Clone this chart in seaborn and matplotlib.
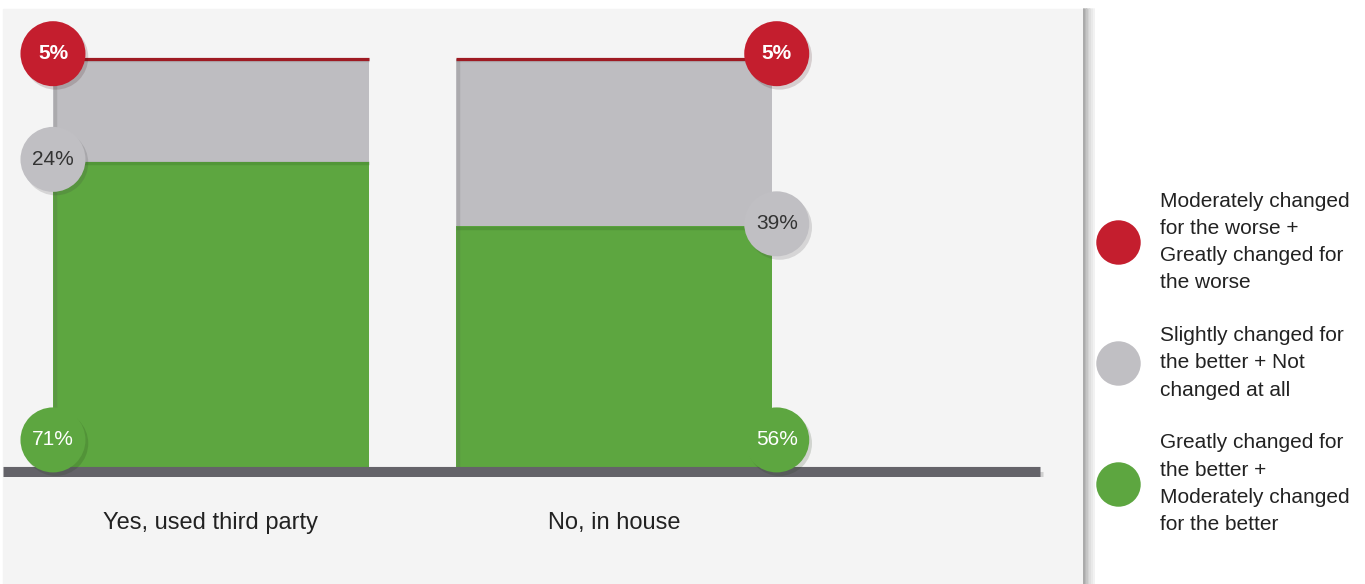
import matplotlib
matplotlib.use('Agg')
import matplotlib.pyplot as plt
import matplotlib.patheffects as pe
from matplotlib.lines import Line2D
from matplotlib.patches import Rectangle
import seaborn as sns
import pandas as pd

# data
categorias = ['Yes, used third party', 'No, in house']
melhor = [71, 56]       # greatly + moderately changed for the better
neutro = [24, 39]       # slightly better + not changed
pior = [5, 5]           # moderately + greatly worse
legenda = ['Moderately changed\nfor the worse +\nGreatly changed for\nthe worse',
           'Slightly changed for\nthe better + Not\nchanged at all',
           'Greatly changed for\nthe better +\nModerately changed\nfor the better']

VERMELHO = '#c41e2e'
CINZA = '#bebdc1'
VERDE = '#5da640'
BASE = '#646369'

sns.set_style('white')
plt.rcParams['font.family'] = ['Liberation Sans', 'DejaVu Sans']

df = pd.DataFrame({'cat': categorias, 'melhor': melhor, 'neutro': neutro, 'pior': pior})
df['topo'] = df['melhor'] + df['neutro']

fig = plt.figure(figsize=(13.65, 5.84), dpi=100)
fig.patch.set_facecolor('white')
fig.add_artist(Rectangle((3 / 1365, 0), 1080 / 1365, 575 / 584, transform=fig.transFigure,
                         color='#f4f4f4', zorder=0))
# divisor com sombra
for k, c in enumerate(['#a9a9a9', '#b8b8b8', '#c6c6c6', '#d3d3d3', '#dfdfdf', '#e9e9e9', '#f2f2f2']):
    fig.add_artist(Line2D([(1084 + k * 1.6) / 1365] * 2, [0, 575 / 584], transform=fig.transFigure,
                          color=c, lw=1.4, zorder=1))

ax = fig.add_axes([3 / 1365, 107 / 584, 1080 / 1365, 468 / 584])
ax.patch.set_alpha(0)
largura = 0.784

sns.barplot(data=df, x='cat', y='topo', color=CINZA, saturation=1, width=largura, ax=ax,
            linewidth=0, zorder=2)
sns.barplot(data=df, x='cat', y='melhor', color=VERDE, saturation=1, width=largura, ax=ax,
            linewidth=0, zorder=3)

ax.set_xlim(-0.516, 2.164)
ax.set_ylim(-2.33, 106.6)

# sombra interna suave no topo de cada segmento
for i, row in df.iterrows():
    for y0, cor in [(row['topo'], '#8e8d92'), (row['melhor'], '#3f7a2a')]:
        ax.hlines(y0 - 0.35, i - largura / 2, i + largura / 2, color=cor, lw=2.5, alpha=0.35, zorder=3.5)
    ax.vlines(i - largura / 2 + 0.004, 0, row['topo'], color='#555555', lw=2.5, alpha=0.18, zorder=3.5)

# linha vermelha no topo (o pior fica como filete)
for i, row in df.iterrows():
    ax.hlines(row['topo'], i - largura / 2, i + largura / 2, color='#9e1a22', lw=2.3, zorder=4)

# linha de base
ax.axhline(-1.15, xmin=0, xmax=0.96, color=BASE, lw=8, zorder=5, solid_capstyle='butt',
           path_effects=[pe.SimpleLineShadow(offset=(2, -4), alpha=0.15), pe.Normal()])

# bolinhas com valores
sombra = [pe.SimplePatchShadow(offset=(2, -2.5), alpha=0.16), pe.Normal()]
for i, row in df.iterrows():
    bx = i - largura / 2 if i == 0 else i + largura / 2 + 0.012
    ys = [row['topo'] + 1.2, row['melhor'] + 0.6, 6.3]
    cores = [VERMELHO, '#c0bfc3', VERDE]
    vals = [row['pior'], row['neutro'], row['melhor']]
    txt = ['white', '#333333', 'white']
    pesos = ['bold', 'normal', 'normal']
    for y, c, v, t, w in zip(ys, cores, vals, txt, pesos):
        ax.scatter([bx], [y], s=2190, color=c, zorder=6, linewidths=0, clip_on=False,
                   path_effects=sombra)
        ax.text(bx, y, f'{v}%', ha='center', va='center', fontsize=15, color=t,
                fontweight=w, zorder=7)

ax.set_xlabel('')
ax.set_ylabel('')
ax.set_yticks([])
ax.tick_params(axis='x', length=0, pad=25.5, labelsize=17, labelcolor='#222222')
sns.despine(ax=ax, left=True, bottom=True)

# legenda
handles = [Line2D([], [], marker='o', ls='', markersize=32, markeredgewidth=0, color=c)
           for c in [VERMELHO, '#c0bfc3', VERDE]]
leg = fig.legend(handles, legenda, loc='upper left', bbox_to_anchor=(1097 / 1365, 0.672),
                 frameon=False, fontsize=15, handlelength=2, handletextpad=1.0,
                 labelspacing=1.62, borderpad=0, borderaxespad=0)
for t in leg.get_texts():
    t.set_color('#222222')
    t.set_linespacing(1.55)

fig.savefig('out.png', dpi=100)
